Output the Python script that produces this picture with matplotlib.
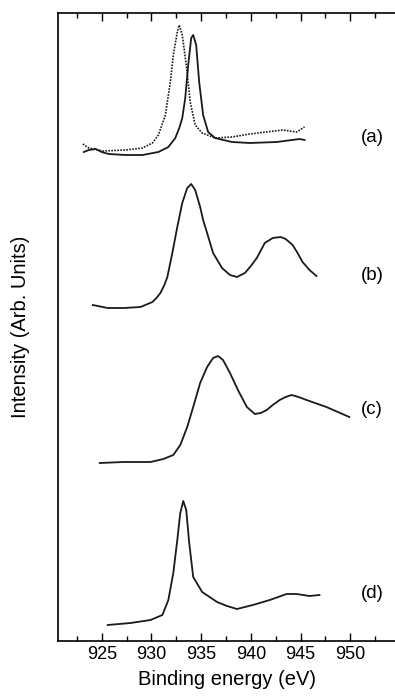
import matplotlib.pyplot as plt
from matplotlib.ticker import MultipleLocator

plt.rcParams['font.family'] = ['Liberation Sans', 'DejaVu Sans']

# binding energy (eV) and intensity (arb. units, stacked)
a_x = [923.2, 923.7, 924.4, 925.0, 925.7, 927.4, 929.1, 930.7, 931.7, 932.4, 932.8, 933.1,
       933.4, 933.7, 934.0, 934.2, 934.5, 934.8, 935.2, 935.7, 936.4, 938.1, 939.9, 942.6,
       944.9, 945.4]
a_y = [489, 491, 492, 489, 487, 486, 486, 489, 494, 503, 513, 523,
       543, 576, 603, 606, 596, 559, 526, 509, 503, 499, 498, 499,
       502, 501]

a2_x = [923.1, 923.7, 925.1, 927.4, 929.1, 930.1, 930.7, 931.4, 931.9, 932.2, 932.6, 932.8,
        933.1, 933.5, 933.9, 934.4, 935.1, 936.4, 938.1, 939.9, 943.2, 944.6, 945.4]
a2_y = [497, 493, 490, 491, 493, 498, 506, 526, 559, 586, 609, 616,
        606, 576, 539, 516, 508, 503, 504, 507, 511, 509, 514]

b_x = [924.1, 925.6, 927.2, 928.9, 930.1, 930.5, 930.9, 931.3, 931.6, 932.1, 932.6, 933.1,
       933.6, 934.0, 934.4, 934.9, 935.2, 935.6, 936.2, 937.1, 937.9, 938.6, 939.4, 940.0,
       940.6, 941.4, 942.2, 943.0, 943.5, 944.2, 944.7, 945.2, 945.9, 946.6]
b_y = [336, 333, 333, 334, 339, 343, 348, 356, 364, 388, 414, 438,
       453, 457, 451, 434, 421, 408, 388, 373, 366, 364, 368, 375,
       383, 398, 403, 404, 402, 396, 388, 379, 371, 365]

c_x = [924.8, 927.2, 929.9, 931.2, 932.2, 932.9, 933.6, 934.2, 934.9, 935.6, 936.2, 936.7,
       937.2, 937.9, 938.7, 939.6, 940.4, 941.0, 941.6, 942.2, 942.9, 943.5, 944.1, 944.8,
       945.6, 947.6, 949.9]
c_y = [178, 179, 179, 182, 186, 196, 214, 234, 258, 274, 283, 285,
       281, 268, 251, 234, 227, 228, 231, 236, 241, 244, 246, 244,
       241, 234, 224]

d_x = [925.6, 927.9, 929.9, 931.1, 931.7, 932.2, 932.6, 932.9, 933.2, 933.5, 933.8, 934.2,
       935.1, 936.6, 937.6, 938.6, 940.2, 941.9, 943.6, 944.6, 945.9, 946.9]
d_y = [16, 18, 21, 26, 41, 68, 101, 128, 140, 131, 98, 64,
       49, 39, 35, 32, 36, 41, 47, 47, 45, 46]

labels = ['(a)', '(b)', '(c)', '(d)']
label_y = [504, 366, 231, 48]

fig = plt.figure(figsize=(3.95, 6.96), dpi=100)
ax = fig.add_axes([58 / 395, 55 / 696, 1 - 58 / 395, 628 / 696])

ax.plot(a_x, a_y, color='#1a1a1a', lw=1.3)
ax.plot(a2_x, a2_y, color='#1a1a1a', lw=1.2, ls=(0, (1, 0.8)))
ax.plot(b_x, b_y, color='#1a1a1a', lw=1.3)
ax.plot(c_x, c_y, color='#1a1a1a', lw=1.3)
ax.plot(d_x, d_y, color='#1a1a1a', lw=1.3)

for lab, yy in zip(labels, label_y):
    ax.text(951.1, yy, lab, fontsize=13.5, va='center', ha='left')

ax.set_xlim(920.6, 954.5)
ax.set_ylim(0, 628)
ax.spines['right'].set_visible(False)
ax.xaxis.set_major_locator(MultipleLocator(5))
ax.xaxis.set_minor_locator(MultipleLocator(2.5))
ax.tick_params(axis='x', which='both', direction='in', top=True, labelsize=13)
ax.tick_params(axis='x', which='major', length=6, width=1)
ax.tick_params(axis='x', which='minor', length=3.5, width=1)
ax.set_yticks([])
for s in ['left', 'bottom', 'top']:
    ax.spines[s].set_linewidth(1.2)

ax.set_xlabel('Binding energy (eV)', fontsize=14.5, labelpad=5)
ax.set_ylabel('Intensity (Arb. Units)', fontsize=14.5, labelpad=20)

fig.savefig('out.png', dpi=100)
